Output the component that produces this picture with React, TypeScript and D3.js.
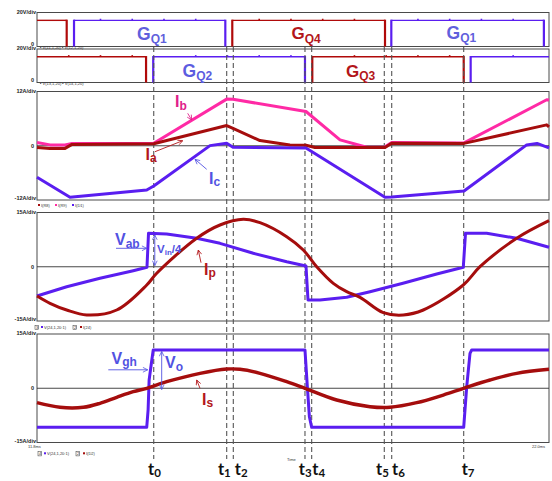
import React from "react";
import * as d3 from "d3";

const W = 552;
const H = 481;

// time axis: percent of the captured window
const T_MARKS = [22.8, 37.05, 38.34, 52.34, 53.65, 67.83, 69.28, 83.34];
const T_NAMES = ["0", "1", "2", "3", "4", "5", "6", "7"];
const T_LABEL_DX = [-5.7, -8.8, 1.5, -6.2, 0.6, -8.2, 0.3, -2];

// gate signals: on-intervals [start, end]
const GQ1_ON = [[7.23, 36.78], [69.2, 99.0]];
const GQ4_ON = [[0, 5.8], [38.14, 67.97]];
const GQ2_ON = [[22.7, 52.34], [84.7, 100]];
const GQ3_ON = [[0, 21.3], [53.77, 83.34]];
const GATE_HIGH = 15;

// panel 3 currents (A)
const IB = [[0, 0.74], [2.54, 0.19], [5.47, 0.19], [6.84, 0.52], [22.8, 0.57], [37.05, 10.32], [38.28, 10.28], [52.54, 7.57], [59.18, 1.3], [64.4, -0.32], [67.97, -0.25], [69.28, 0.7], [83.4, 0.63], [99.55, 10.17], [100, 10.1]];
const IA = [[0, -0.37], [2.54, -0.59], [5.47, -0.59], [6.84, 0.3], [22.8, 0.45], [37.05, 4.47], [38.28, 3.85], [43.55, 1.14], [49.4, 0.19], [52.54, 0.12], [54.3, -0.4], [67.97, -0.4], [69.28, 0.57], [83.4, 0.52], [99.55, 4.62], [100, 4.18]];
const IC = [[0, -6.97], [6.45, -11.41], [21.43, -9.79], [22.8, -8.9], [33.79, 0.03], [37.05, 0.57], [38.28, -0.32], [52.54, -0.48], [67.97, -11.41], [69.28, -11.34], [83.4, -10.01], [95.64, 0.19], [97.66, 0.52], [100, -0.48]];

// panel 4
const VAB = [[0, -8.09], [5.8, -5.52], [12.3, -3.19], [18.8, -1.09], [21.48, -0.15], [21.78, 9.25], [25.33, 9.05], [31.19, 7.87], [35.74, 6.48], [42.25, 3.72], [48.77, 1.4], [52.54, 0.21], [52.93, -9.19], [55.27, -9.19], [60.49, -8.45], [65.04, -6.9], [71.48, -4.58], [78.07, -2.0], [83.26, -0.15], [83.69, 9.25], [87.83, 9.25], [93.69, 7.87], [100, 5.38]];
const IP = [[0, -8.09], [2.54, -10.1], [5.8, -11.96], [9.71, -13.34], [15.57, -11.96], [21.43, -5.05], [23.38, -1.81], [31.19, 7.87], [35.74, 11.54], [40.29, 13.12], [43.55, 12.18], [48.77, 8.31], [52.01, 4.63], [54.63, 0.01], [57.87, -4.58], [60.49, -6.9], [63.09, -8.45], [67.64, -12.7], [71.54, -13.34], [75.45, -11.96], [83.26, -5.05], [86.52, 0.01], [93.69, 7.87], [100, 12.73]];

// panel 5
const VGH = [[0, -10.8], [21.43, -10.8], [21.7, -6], [21.9, 2.3], [22.3, 6.5], [22.7, 10.57], [52.34, 10.57], [52.8, 0.43], [53.2, -7.87], [53.65, -10.8], [83.34, -10.8], [83.93, 0.43], [84.57, 9.66], [84.9, 10.57], [100, 10.57]];
const IS = [[0, -4.0], [4.49, -5.27], [9.04, -5.27], [12.3, -4.16], [15.57, -2.5], [18.8, -0.95], [21.43, -0.01], [25.33, 1.81], [31.84, 4.13], [37.05, 5.32], [39.65, 5.24], [43.55, 4.13], [48.77, 1.81], [52.34, -0.01], [58.53, -3.25], [65.04, -5.1], [68.95, -5.27], [74.16, -4.0], [79.36, -1.87], [83.34, -0.01], [88.48, 2.28], [93.69, 4.13], [100, 5.24]];

const SCALE_LABELS = [
  ["20V/div", "0"],
  ["20V/div", "0"],
  ["12A/div", "0", "-12A/div"],
  ["15A/div", "0", "-15A/div"],
  ["15A/div", "0", "-15A/div"],
];

const BLUE = "#5a1ef0";
const PINK = "#ff2aa5";
const DRED = "#a50d0d";
const GATE_RED = "#b00a0a";
const LBL_BLUE = "#5252e2";
const LBL_RED = "#b3161a";
const LBL_PINK = "#e0208a";
const FONT = "'Liberation Sans', Arial, sans-serif";

const PANELS = [
  { top: 12.5, bottom: 46.5 },
  { top: 49, bottom: 82.5 },
  { top: 91.5, bottom: 200 },
  { top: 212.5, bottom: 321 },
  { top: 334, bottom: 442.5 },
];
const X0 = 37;
const X1 = 549;

export default function App() {
  const x = d3.scaleLinear().domain([0, 100]).range([X0, X1]);
  const yG1 = d3.scaleLinear().domain([0, 19.5]).range([PANELS[0].bottom, PANELS[0].top]);
  const yG2 = d3.scaleLinear().domain([0, 19.5]).range([PANELS[1].bottom, PANELS[1].top]);
  const y3 = d3.scaleLinear().domain([-12, 12]).range([PANELS[2].bottom, PANELS[2].top]);
  const y4 = d3.scaleLinear().domain([-15, 15]).range([PANELS[3].bottom, PANELS[3].top]);
  const y5 = d3.scaleLinear().domain([-15, 15]).range([PANELS[4].bottom, PANELS[4].top]);

  const lineOf = (ys: any, curve: any = d3.curveLinear) =>
    d3.line<number[]>().x((d) => x(d[0])).y((d) => ys(d[1])).curve(curve);

  const gate = (on: number[][], ys: any, color: string, key: string) => {
    const yH = ys(GATE_HIGH);
    const yL = ys(0);
    const els: any[] = [];
    on.forEach(([a, b], i) => {
      els.push(<line key={key + "h" + i} x1={x(a)} x2={x(b)} y1={yH} y2={yH} stroke={color} strokeWidth={1.4} />);
      if (a > 0) els.push(<line key={key + "a" + i} x1={x(a)} x2={x(a)} y1={yL} y2={yH - 0.7} stroke={color} strokeWidth={2.2} />);
      if (b < 100) els.push(<line key={key + "b" + i} x1={x(b)} x2={x(b)} y1={yL} y2={yH - 0.7} stroke={color} strokeWidth={2.2} />);
      d3.range(Math.ceil((a + 3) / 6.2) * 6.2, b - 1, 6.2).forEach((t, j) =>
        els.push(<rect key={key + "m" + i + "_" + j} x={x(t) - 0.8} y={yH - 1.6} width={1.6} height={1.6} fill={color} />)
      );
    });
    return els;
  };

  const tiny = { fontFamily: FONT, fontSize: 5.5, fontWeight: "bold" as const, fill: "#222" };
  const lbl = (xx: number, yy: number, main: string, sub: string, color: string, fs = 16, sfs = 11.5, dy = 3) => (
    <text x={xx} y={yy} fill={color} fontFamily={FONT} fontWeight="bold" fontSize={fs}>
      {main}
      <tspan fontSize={sfs} dy={dy}>{sub}</tspan>
    </text>
  );

  return (
    <svg width={W} height={H} style={{ position: "absolute", left: 0, top: 0, background: "#fff" }}>
      <defs>
        {[["aB", LBL_BLUE], ["aR", LBL_RED], ["aP", LBL_PINK]].map(([id, c]) => (
          <marker key={id} id={id} viewBox="0 0 10 10" refX="9" refY="5" markerWidth="6" markerHeight="6" markerUnits="userSpaceOnUse" orient="auto-start-reverse">
            <path d="M1,1 L9,5 L1,9" fill="none" stroke={c} strokeWidth={1.3} />
          </marker>
        ))}
      </defs>
      <rect x={0} y={0} width={W} height={H} fill="#fff" />

      {PANELS.map((p, i) => (
        <rect key={"p" + i} x={X0} y={p.top} width={X1 - X0} height={p.bottom - p.top} fill="none" stroke="#4a4a4a" strokeWidth={1} />
      ))}
      {[y3, y4, y5].map((ys, i) => (
        <line key={"z" + i} x1={X0} x2={X1} y1={ys(0)} y2={ys(0)} stroke="#333" strokeWidth={0.9} />
      ))}

      {PANELS.map((p, i) => {
        const labs = SCALE_LABELS[i];
        const out: any[] = [];
        out.push(<text key={"s" + i + "t"} x={36} y={p.top + 1} textAnchor="end" {...tiny}>{labs[0]}</text>);
        if (labs.length === 2) {
          out.push(<text key={"s" + i + "z"} x={34} y={p.bottom - 1} textAnchor="end" {...tiny}>{labs[1]}</text>);
        } else {
          const mid = (p.top + p.bottom) / 2;
          out.push(<text key={"s" + i + "z"} x={34} y={mid + 2} textAnchor="end" {...tiny}>{labs[1]}</text>);
          out.push(<text key={"s" + i + "b"} x={36} y={p.bottom} textAnchor="end" {...tiny}>{labs[2]}</text>);
        }
        return out;
      })}

      <g fontFamily={FONT} fontSize={4} fill="#333">
        <text x={40} y={48.5}>▪ V(11,1,20) ▪ V(12,1,20)</text>
        <text x={40} y={84.5}>▪ V(13,1,20) ▪ V(14,1,20)</text>
        <rect x={38} y={204} width={2} height={2} fill={DRED} />
        <text x={41} y={206.5}>I(R8)</text>
        <rect x={55} y={204} width={2} height={2} fill={PINK} />
        <text x={58} y={206.5}>I(R9)</text>
        <rect x={72} y={204} width={2} height={2} fill={BLUE} />
        <text x={75} y={206.5}>I(D1)</text>
        <text x={36} y={329}>3</text>
        <rect x={35} y={325.3} width={3.4} height={4.4} fill="none" stroke="#333" strokeWidth={0.5} />
        <rect x={41} y={326} width={2} height={2} fill={BLUE} />
        <text x={44} y={328.5}>V(24,1,20:1)</text>
        <rect x={73} y={325.3} width={3.4} height={4.4} fill="none" stroke="#333" strokeWidth={0.5} />
        <text x={74} y={329}>2</text>
        <rect x={80} y={326} width={2} height={2} fill={DRED} />
        <text x={83} y={328.5}>I(24)</text>
        <text x={28} y={448}>11.8ms</text>
        <rect x={38} y={451.5} width={3.4} height={4.4} fill="none" stroke="#333" strokeWidth={0.5} />
        <text x={39} y={455.3}>4</text>
        <rect x={44} y={452.3} width={2} height={2} fill={BLUE} />
        <text x={47} y={455}>V(24,1,20:1)</text>
        <rect x={76} y={451.5} width={3.4} height={4.4} fill="none" stroke="#333" strokeWidth={0.5} />
        <text x={77} y={455.3}>2</text>
        <rect x={83} y={452.3} width={2} height={2} fill={DRED} />
        <text x={86} y={455}>I(D2)</text>
        <text x={532} y={448}>22.0ms</text>
        <text x={287} y={461}>Time</text>
      </g>

      {gate(GQ4_ON, yG1, GATE_RED, "g4")}
      {gate(GQ1_ON, yG1, BLUE, "g1")}
      {gate(GQ3_ON, yG2, GATE_RED, "g3")}
      {gate(GQ2_ON, yG2, BLUE, "g2")}

      {T_MARKS.map((t, i) => (
        <line key={"d" + i} x1={x(t)} x2={x(t)} y1={47} y2={459} stroke="#555" strokeWidth={1.1} strokeDasharray="5,3" />
      ))}

      <path d={lineOf(y3)(IB as any) || ""} fill="none" stroke={PINK} strokeWidth={3} strokeLinejoin="round" />
      <path d={lineOf(y3)(IA as any) || ""} fill="none" stroke={DRED} strokeWidth={3} strokeLinejoin="round" />
      <path d={lineOf(y3)(IC as any) || ""} fill="none" stroke={BLUE} strokeWidth={3} strokeLinejoin="round" />

      <path d={lineOf(y4)(VAB as any) || ""} fill="none" stroke={BLUE} strokeWidth={3} strokeLinejoin="round" />
      <path d={lineOf(y4, d3.curveCatmullRom.alpha(0.5))(IP as any) || ""} fill="none" stroke={DRED} strokeWidth={3} />

      <path d={lineOf(y5)(VGH as any) || ""} fill="none" stroke={BLUE} strokeWidth={3} strokeLinejoin="round" />
      <path d={lineOf(y5, d3.curveCatmullRom.alpha(0.5))(IS as any) || ""} fill="none" stroke={DRED} strokeWidth={3.4} />

      {lbl(137, 40, "G", "Q1", "#6060dc", 17.5, 12, 3)}
      {lbl(182.5, 77.3, "G", "Q2", "#5c5ce0", 17.5, 12, 2.5)}
      {lbl(291.5, 38.5, "G", "Q4", LBL_RED, 17, 12, 4)}
      {lbl(346, 76.5, "G", "Q3", LBL_RED, 17, 12, 3.5)}
      {lbl(446.5, 38.5, "G", "Q1", "#6060dc", 17.5, 12, 3)}

      {lbl(175, 106.7, "I", "b", LBL_PINK, 16, 12, 3.3)}
      <line x1={187.7} y1={113.3} x2={191.7} y2={120} stroke={LBL_PINK} strokeWidth={0.9} markerEnd="url(#aP)" />
      {lbl(145.5, 160, "I", "a", LBL_RED, 16, 12, 2)}
      <line x1={155} y1={151.7} x2={182.7} y2={140.7} stroke={LBL_RED} strokeWidth={0.9} markerEnd="url(#aR)" />
      {lbl(209, 184, "I", "c", LBL_BLUE, 16, 12, 2)}
      <line x1={206.7} y1={169.3} x2={195} y2={159.3} stroke={LBL_BLUE} strokeWidth={0.9} markerEnd="url(#aB)" />

      {lbl(115, 245, "V", "ab", LBL_BLUE, 16, 12, 3)}
      <line x1={116} y1={248.3} x2={146.7} y2={248.3} stroke={LBL_BLUE} strokeWidth={0.9} markerEnd="url(#aB)" />
      <line x1={154.8} y1={235} x2={154.8} y2={265.5} stroke={LBL_BLUE} strokeWidth={0.9} markerStart="url(#aB)" markerEnd="url(#aB)" />
      <text x={157} y={253.3} fill={LBL_BLUE} fontFamily={FONT} fontWeight="bold" fontSize={11.5}>
        V<tspan fontSize={8} dy={1.5}>in</tspan><tspan dy={-1.5}>/4</tspan>
      </text>
      {lbl(204, 275, "I", "p", LBL_RED, 16, 12, 2)}
      <line x1={201} y1={262.7} x2={198.3} y2={250} stroke={LBL_RED} strokeWidth={0.9} markerEnd="url(#aR)" />

      {lbl(111.5, 363.5, "V", "gh", LBL_BLUE, 16, 12, 2.5)}
      <line x1={108.3} y1={369.8} x2={147.7} y2={369.8} stroke={LBL_BLUE} strokeWidth={0.9} markerEnd="url(#aB)" />
      <line x1={161.7} y1={351.5} x2={161.7} y2={389.5} stroke={LBL_BLUE} strokeWidth={0.9} markerStart="url(#aB)" markerEnd="url(#aB)" />
      {lbl(165, 368.3, "V", "o", LBL_BLUE, 16, 12, 3)}
      {lbl(202, 405, "I", "s", LBL_RED, 16, 12, 1.5)}
      <line x1={200} y1={388.3} x2={196.7} y2={380} stroke={LBL_RED} strokeWidth={0.9} markerEnd="url(#aR)" />

      {T_MARKS.map((t, i) => (
        <text key={"t" + i} x={x(t) + T_LABEL_DX[i]} y={474.5} fill="#111" fontFamily="Lato, 'Open Sans', sans-serif" fontWeight="bold" fontSize={16.5}>
          t<tspan fontSize={11.5} dy={2.8}>{T_NAMES[i]}</tspan>
        </text>
      ))}
    </svg>
  );
}
